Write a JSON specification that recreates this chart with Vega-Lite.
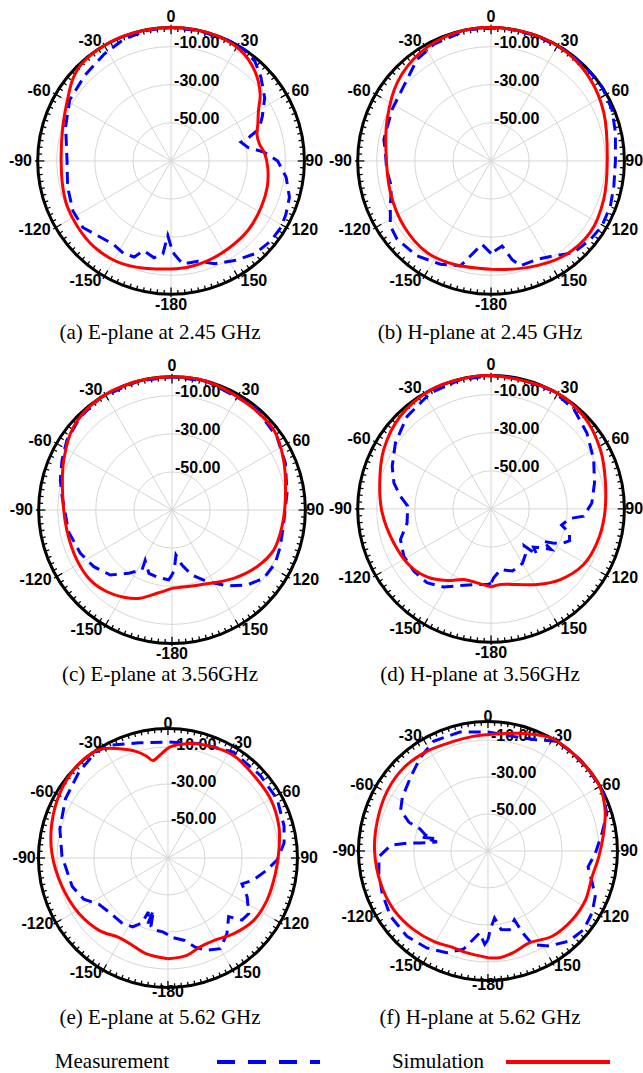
{
  "$schema": "https://vega.github.io/schema/vega-lite/v6.json",
  "padding": 0,
  "background": "white",
  "bounds": "flush",
  "columns": 2,
  "spacing": {"row": 23, "column": 0},
  "config": {"view": {"stroke": null}},
  "resolve": {"scale": {"x": "independent", "y": "independent", "size": "independent"}},
  "datasets": {
    "gridc": [{"d": -50}, {"d": -30}, {"d": -10}],
    "ring": [{"d": 0}],
    "spokes": [{"a": 0}, {"a": 30}, {"a": 60}, {"a": 90}, {"a": 120}, {"a": 150}, {"a": 180}, {"a": 210}, {"a": 240}, {"a": 270}, {"a": 300}, {"a": 330}],
    "ticks": [{"a":0},{"a":3},{"a":6},{"a":9},{"a":12},{"a":15},{"a":18},{"a":21},{"a":24},{"a":27},{"a":30},{"a":33},{"a":36},{"a":39},{"a":42},{"a":45},{"a":48},{"a":51},{"a":54},{"a":57},{"a":60},{"a":63},{"a":66},{"a":69},{"a":72},{"a":75},{"a":78},{"a":81},{"a":84},{"a":87},{"a":90},{"a":93},{"a":96},{"a":99},{"a":102},{"a":105},{"a":108},{"a":111},{"a":114},{"a":117},{"a":120},{"a":123},{"a":126},{"a":129},{"a":132},{"a":135},{"a":138},{"a":141},{"a":144},{"a":147},{"a":150},{"a":153},{"a":156},{"a":159},{"a":162},{"a":165},{"a":168},{"a":171},{"a":174},{"a":177},{"a":180},{"a":183},{"a":186},{"a":189},{"a":192},{"a":195},{"a":198},{"a":201},{"a":204},{"a":207},{"a":210},{"a":213},{"a":216},{"a":219},{"a":222},{"a":225},{"a":228},{"a":231},{"a":234},{"a":237},{"a":240},{"a":243},{"a":246},{"a":249},{"a":252},{"a":255},{"a":258},{"a":261},{"a":264},{"a":267},{"a":270},{"a":273},{"a":276},{"a":279},{"a":282},{"a":285},{"a":288},{"a":291},{"a":294},{"a":297},{"a":300},{"a":303},{"a":306},{"a":309},{"a":312},{"a":315},{"a":318},{"a":321},{"a":324},{"a":327},{"a":330},{"a":333},{"a":336},{"a":339},{"a":342},{"a":345},{"a":348},{"a":351},{"a":354},{"a":357}],
    "alab": [{"a": 0, "t": "0"}, {"a": 30, "t": "30"}, {"a": 60, "t": "60"}, {"a": 90, "t": "90"}, {"a": 120, "t": "120"}, {"a": 150, "t": "150"}, {"a": 180, "t": "-180"}, {"a": -30, "t": "-30"}, {"a": -60, "t": "-60"}, {"a": -90, "t": "-90"}, {"a": -120, "t": "-120"}, {"a": -150, "t": "-150"}],
    "rlab": [{"d": -10, "t": "-10.00"}, {"d": -30, "t": "-30.00"}, {"d": -50, "t": "-50.00"}],
    "legend": [{"s": "Measurement"}, {"s": "Simulation"}],
    "curves": [
      {"p":"a","s":"m","a":-180,"d":-25},{"p":"a","s":"m","a":-177.5,"d":-30.8},{"p":"a","s":"m","a":-175,"d":-21},{"p":"a","s":"m","a":-170,"d":-18.4},{"p":"a","s":"m","a":-163,"d":-20.8},{"p":"a","s":"m","a":-159,"d":-16},{"p":"a","s":"m","a":-153,"d":-15.4},{"p":"a","s":"m","a":-145,"d":-16.8},{"p":"a","s":"m","a":-135.5,"d":-15},{"p":"a","s":"m","a":-127,"d":-12},{"p":"a","s":"m","a":-117,"d":-12.2},{"p":"a","s":"m","a":-104,"d":-14},{"p":"a","s":"m","a":-90,"d":-15.4},{"p":"a","s":"m","a":-72,"d":-11.8},{"p":"a","s":"m","a":-59,"d":-7.9},{"p":"a","s":"m","a":-45,"d":-6.2},{"p":"a","s":"m","a":-32,"d":-3.8},{"p":"a","s":"m","a":-21,"d":-1.4},{"p":"a","s":"m","a":-10,"d":-0.3},{"p":"a","s":"m","a":0,"d":0},{"p":"a","s":"m","a":12,"d":0},{"p":"a","s":"m","a":25,"d":0},{"p":"a","s":"m","a":33,"d":0},{"p":"a","s":"m","a":40,"d":-1.6},{"p":"a","s":"m","a":47,"d":-5.5},{"p":"a","s":"m","a":56,"d":-10.7},{"p":"a","s":"m","a":64,"d":-16.7},{"p":"a","s":"m","a":70,"d":-20.7},{"p":"a","s":"m","a":73,"d":-27},{"p":"a","s":"m","a":75,"d":-32},{"p":"a","s":"m","a":80,"d":-29},{"p":"a","s":"m","a":84.5,"d":-21},{"p":"a","s":"m","a":90,"d":-14},{"p":"a","s":"m","a":98,"d":-9},{"p":"a","s":"m","a":107,"d":-5},{"p":"a","s":"m","a":115,"d":-3.5},{"p":"a","s":"m","a":121,"d":-2.6},{"p":"a","s":"m","a":128.5,"d":-2.8},{"p":"a","s":"m","a":138,"d":-4.4},{"p":"a","s":"m","a":147.5,"d":-8},{"p":"a","s":"m","a":157,"d":-11.4},{"p":"a","s":"m","a":165,"d":-15.5},{"p":"a","s":"m","a":173.5,"d":-15.6},{"p":"a","s":"m","a":178,"d":-21},{"p":"a","s":"m","a":180,"d":-25},
      {"p":"a","s":"s","a":-180,"d":-13.3},{"p":"a","s":"s","a":-166,"d":-11.9},{"p":"a","s":"s","a":-152,"d":-10},{"p":"a","s":"s","a":-138,"d":-9.4},{"p":"a","s":"s","a":-125,"d":-10},{"p":"a","s":"s","a":-114,"d":-10.5},{"p":"a","s":"s","a":-104,"d":-11.5},{"p":"a","s":"s","a":-90,"d":-12.3},{"p":"a","s":"s","a":-73,"d":-10.5},{"p":"a","s":"s","a":-58,"d":-6.3},{"p":"a","s":"s","a":-50,"d":-2.8},{"p":"a","s":"s","a":-43,"d":-0.8},{"p":"a","s":"s","a":-30,"d":0},{"p":"a","s":"s","a":-16,"d":0},{"p":"a","s":"s","a":0,"d":0},{"p":"a","s":"s","a":10,"d":0},{"p":"a","s":"s","a":20,"d":0},{"p":"a","s":"s","a":32,"d":-1.4},{"p":"a","s":"s","a":43,"d":-5.5},{"p":"a","s":"s","a":53,"d":-11.4},{"p":"a","s":"s","a":60,"d":-17},{"p":"a","s":"s","a":67,"d":-20.5},{"p":"a","s":"s","a":73,"d":-22.8},{"p":"a","s":"s","a":79,"d":-22.8},{"p":"a","s":"s","a":85,"d":-20.8},{"p":"a","s":"s","a":94,"d":-19.1},{"p":"a","s":"s","a":105,"d":-17.7},{"p":"a","s":"s","a":117,"d":-16.8},{"p":"a","s":"s","a":132,"d":-15.6},{"p":"a","s":"s","a":147,"d":-15},{"p":"a","s":"s","a":160,"d":-14.2},{"p":"a","s":"s","a":171,"d":-13.5},{"p":"a","s":"s","a":180,"d":-13.3},
      {"p":"b","s":"m","a":-180,"d":-21.5},{"p":"b","s":"m","a":-173.8,"d":-26},{"p":"b","s":"m","a":-167.7,"d":-18.9},{"p":"b","s":"m","a":-163.7,"d":-12.6},{"p":"b","s":"m","a":-153.9,"d":-9.6},{"p":"b","s":"m","a":-142,"d":-6.8},{"p":"b","s":"m","a":-129.8,"d":-5.8},{"p":"b","s":"m","a":-122.8,"d":-7.1},{"p":"b","s":"m","a":-114,"d":-12.1},{"p":"b","s":"m","a":-104.6,"d":-16},{"p":"b","s":"m","a":-95,"d":-15},{"p":"b","s":"m","a":-85.5,"d":-14.4},{"p":"b","s":"m","a":-78.6,"d":-12.6},{"p":"b","s":"m","a":-62.4,"d":-11.4},{"p":"b","s":"m","a":-49.3,"d":-9.6},{"p":"b","s":"m","a":-36,"d":-4},{"p":"b","s":"m","a":-26,"d":-1.8},{"p":"b","s":"m","a":-10.3,"d":0},{"p":"b","s":"m","a":0,"d":-0.3},{"p":"b","s":"m","a":6.8,"d":0},{"p":"b","s":"m","a":19.7,"d":0},{"p":"b","s":"m","a":34,"d":0},{"p":"b","s":"m","a":45.3,"d":0},{"p":"b","s":"m","a":56.3,"d":0},{"p":"b","s":"m","a":66.9,"d":-1},{"p":"b","s":"m","a":77,"d":-3},{"p":"b","s":"m","a":90,"d":-4.7},{"p":"b","s":"m","a":101.5,"d":-4.2},{"p":"b","s":"m","a":110.7,"d":-3},{"p":"b","s":"m","a":120.4,"d":-2.5},{"p":"b","s":"m","a":128.3,"d":-3.5},{"p":"b","s":"m","a":138,"d":-5.2},{"p":"b","s":"m","a":146.6,"d":-10.3},{"p":"b","s":"m","a":155,"d":-13},{"p":"b","s":"m","a":164.4,"d":-12.8},{"p":"b","s":"m","a":168,"d":-17.2},{"p":"b","s":"m","a":172.6,"d":-25},{"p":"b","s":"m","a":180,"d":-21.5},
      {"p":"b","s":"s","a":-180,"d":-13.1},{"p":"b","s":"s","a":-160,"d":-12.3},{"p":"b","s":"s","a":-145,"d":-11.3},{"p":"b","s":"s","a":-127,"d":-12.8},{"p":"b","s":"s","a":-107.5,"d":-14.6},{"p":"b","s":"s","a":-84,"d":-14.5},{"p":"b","s":"s","a":-68,"d":-11.2},{"p":"b","s":"s","a":-50,"d":-5.8},{"p":"b","s":"s","a":-33,"d":-2.1},{"p":"b","s":"s","a":-16,"d":-0.2},{"p":"b","s":"s","a":0,"d":0},{"p":"b","s":"s","a":18,"d":0},{"p":"b","s":"s","a":35,"d":-0.5},{"p":"b","s":"s","a":50.6,"d":-2.5},{"p":"b","s":"s","a":66.8,"d":-5.6},{"p":"b","s":"s","a":90,"d":-9},{"p":"b","s":"s","a":108.8,"d":-7.5},{"p":"b","s":"s","a":125.8,"d":-5.8},{"p":"b","s":"s","a":142.6,"d":-7.2},{"p":"b","s":"s","a":161.4,"d":-10.9},{"p":"b","s":"s","a":180,"d":-13.1},
      {"p":"c","s":"m","a":-180,"d":-36},{"p":"c","s":"m","a":-177.3,"d":-33.3},{"p":"c","s":"m","a":-167.3,"d":-34},{"p":"c","s":"m","a":-160,"d":-34.6},{"p":"c","s":"m","a":-152,"d":-40},{"p":"c","s":"m","a":-153.4,"d":-34.8},{"p":"c","s":"m","a":-145.6,"d":-29.8},{"p":"c","s":"m","a":-136.5,"d":-23},{"p":"c","s":"m","a":-125.9,"d":-19.3},{"p":"c","s":"m","a":-115.3,"d":-16.8},{"p":"c","s":"m","a":-101.8,"d":-14.5},{"p":"c","s":"m","a":-83,"d":-11.9},{"p":"c","s":"m","a":-75,"d":-9.3},{"p":"c","s":"m","a":-65.6,"d":-6.6},{"p":"c","s":"m","a":-56.3,"d":-3.7},{"p":"c","s":"m","a":-44.5,"d":-1.4},{"p":"c","s":"m","a":-32.3,"d":0},{"p":"c","s":"m","a":-15,"d":0},{"p":"c","s":"m","a":0,"d":0},{"p":"c","s":"m","a":15,"d":0},{"p":"c","s":"m","a":38.3,"d":-0.5},{"p":"c","s":"m","a":55,"d":-2.8},{"p":"c","s":"m","a":67.6,"d":-5.6},{"p":"c","s":"m","a":81.8,"d":-9},{"p":"c","s":"m","a":96.8,"d":-11},{"p":"c","s":"m","a":108.7,"d":-10},{"p":"c","s":"m","a":117.3,"d":-9},{"p":"c","s":"m","a":126.7,"d":-10},{"p":"c","s":"m","a":135,"d":-14.3},{"p":"c","s":"m","a":144,"d":-20.8},{"p":"c","s":"m","a":154,"d":-28.2},{"p":"c","s":"m","a":163,"d":-34.3},{"p":"c","s":"m","a":169.7,"d":-40.6},{"p":"c","s":"m","a":175,"d":-46.3},{"p":"c","s":"m","a":177.8,"d":-38.5},{"p":"c","s":"m","a":180,"d":-36},
      {"p":"c","s":"s","a":-180,"d":-28.9},{"p":"c","s":"s","a":-169.8,"d":-25.6},{"p":"c","s":"s","a":-160,"d":-20.7},{"p":"c","s":"s","a":-151,"d":-17.7},{"p":"c","s":"s","a":-141.5,"d":-15.2},{"p":"c","s":"s","a":-130.6,"d":-13.5},{"p":"c","s":"s","a":-117.8,"d":-13.6},{"p":"c","s":"s","a":-100.8,"d":-13.8},{"p":"c","s":"s","a":-83,"d":-12.2},{"p":"c","s":"s","a":-65.2,"d":-7.4},{"p":"c","s":"s","a":-49.7,"d":-2.3},{"p":"c","s":"s","a":-34.3,"d":-0.2},{"p":"c","s":"s","a":-16.6,"d":0},{"p":"c","s":"s","a":0,"d":0},{"p":"c","s":"s","a":15,"d":0},{"p":"c","s":"s","a":35,"d":-1.6},{"p":"c","s":"s","a":51.8,"d":-2},{"p":"c","s":"s","a":65.9,"d":-5.8},{"p":"c","s":"s","a":85,"d":-10.3},{"p":"c","s":"s","a":98.6,"d":-11.6},{"p":"c","s":"s","a":111.5,"d":-12.6},{"p":"c","s":"s","a":123.7,"d":-16.4},{"p":"c","s":"s","a":137.9,"d":-21.7},{"p":"c","s":"s","a":159,"d":-28},{"p":"c","s":"s","a":173.8,"d":-29.2},{"p":"c","s":"s","a":180,"d":-28.9},
      {"p":"d","s":"m","a":-180,"d":-31},{"p":"d","s":"m","a":-177,"d":-30.2},{"p":"d","s":"m","a":-167,"d":-29.2},{"p":"d","s":"m","a":-158,"d":-26.6},{"p":"d","s":"m","a":-148.7,"d":-22},{"p":"d","s":"m","a":-139,"d":-18.7},{"p":"d","s":"m","a":-129,"d":-17.9},{"p":"d","s":"m","a":-118.5,"d":-17.9},{"p":"d","s":"m","a":-108.7,"d":-19.8},{"p":"d","s":"m","a":-99.5,"d":-25.3},{"p":"d","s":"m","a":-88,"d":-26.2},{"p":"d","s":"m","a":-82,"d":-21.9},{"p":"d","s":"m","a":-75,"d":-17.2},{"p":"d","s":"m","a":-66.7,"d":-13.5},{"p":"d","s":"m","a":-55.4,"d":-9},{"p":"d","s":"m","a":-42.2,"d":-4.4},{"p":"d","s":"m","a":-27.6,"d":-1.3},{"p":"d","s":"m","a":-13.3,"d":-0.2},{"p":"d","s":"m","a":0,"d":0},{"p":"d","s":"m","a":12.7,"d":0},{"p":"d","s":"m","a":28,"d":0},{"p":"d","s":"m","a":39.8,"d":-2},{"p":"d","s":"m","a":51.6,"d":-5.8},{"p":"d","s":"m","a":64.3,"d":-10.2},{"p":"d","s":"m","a":75.9,"d":-14},{"p":"d","s":"m","a":86.6,"d":-17},{"p":"d","s":"m","a":94.5,"d":-21.2},{"p":"d","s":"m","a":97,"d":-28.5},{"p":"d","s":"m","a":103,"d":-32},{"p":"d","s":"m","a":107,"d":-27},{"p":"d","s":"m","a":112,"d":-25.5},{"p":"d","s":"m","a":116,"d":-28.5},{"p":"d","s":"m","a":119,"d":-33},{"p":"d","s":"m","a":122,"d":-38},{"p":"d","s":"m","a":124,"d":-32},{"p":"d","s":"m","a":128,"d":-37},{"p":"d","s":"m","a":132,"d":-40},{"p":"d","s":"m","a":135,"d":-36},{"p":"d","s":"m","a":138,"d":-44},{"p":"d","s":"m","a":143,"d":-40},{"p":"d","s":"m","a":150,"d":-37},{"p":"d","s":"m","a":161,"d":-35.5},{"p":"d","s":"m","a":171,"d":-37.8},{"p":"d","s":"m","a":177.8,"d":-33.8},{"p":"d","s":"m","a":180,"d":-31},
      {"p":"d","s":"s","a":-180,"d":-29},{"p":"d","s":"s","a":-169.3,"d":-30.5},{"p":"d","s":"s","a":-158.9,"d":-30.3},{"p":"d","s":"s","a":-148.5,"d":-25.9},{"p":"d","s":"s","a":-136.7,"d":-21},{"p":"d","s":"s","a":-125.4,"d":-18},{"p":"d","s":"s","a":-109.3,"d":-15.9},{"p":"d","s":"s","a":-92,"d":-12.8},{"p":"d","s":"s","a":-76.9,"d":-10},{"p":"d","s":"s","a":-61,"d":-5.6},{"p":"d","s":"s","a":-44.4,"d":-1.9},{"p":"d","s":"s","a":-27,"d":0},{"p":"d","s":"s","a":-13,"d":0},{"p":"d","s":"s","a":0,"d":0},{"p":"d","s":"s","a":27,"d":0},{"p":"d","s":"s","a":45,"d":-1.2},{"p":"d","s":"s","a":61.5,"d":-4.7},{"p":"d","s":"s","a":77.2,"d":-8.4},{"p":"d","s":"s","a":93.7,"d":-10.4},{"p":"d","s":"s","a":107.8,"d":-11.6},{"p":"d","s":"s","a":121,"d":-13.3},{"p":"d","s":"s","a":135.5,"d":-18},{"p":"d","s":"s","a":148.7,"d":-23.5},{"p":"d","s":"s","a":161,"d":-28},{"p":"d","s":"s","a":173,"d":-30},{"p":"d","s":"s","a":180,"d":-29},
      {"p":"e","s":"m","a":-180,"d":-28.5},{"p":"e","s":"m","a":-176,"d":-30},{"p":"e","s":"m","a":-170.8,"d":-30.4},{"p":"e","s":"m","a":-166,"d":-32},{"p":"e","s":"m","a":-164.5,"d":-40.7},{"p":"e","s":"m","a":-163,"d":-33},{"p":"e","s":"m","a":-160,"d":-39},{"p":"e","s":"m","a":-158,"d":-32},{"p":"e","s":"m","a":-152.9,"d":-28.2},{"p":"e","s":"m","a":-145.3,"d":-26.9},{"p":"e","s":"m","a":-134,"d":-26.9},{"p":"e","s":"m","a":-123.8,"d":-25.1},{"p":"e","s":"m","a":-116,"d":-19.3},{"p":"e","s":"m","a":-106.6,"d":-16},{"p":"e","s":"m","a":-89,"d":-12.7},{"p":"e","s":"m","a":-75,"d":-9.5},{"p":"e","s":"m","a":-60,"d":-6},{"p":"e","s":"m","a":-46,"d":-3.1},{"p":"e","s":"m","a":-34.3,"d":-0.7},{"p":"e","s":"m","a":-27.6,"d":-1.3},{"p":"e","s":"m","a":-14,"d":-5.8},{"p":"e","s":"m","a":0,"d":-7.3},{"p":"e","s":"m","a":15.6,"d":-5.8},{"p":"e","s":"m","a":31.8,"d":-2.7},{"p":"e","s":"m","a":48.3,"d":-3},{"p":"e","s":"m","a":61.7,"d":-2.9},{"p":"e","s":"m","a":74.6,"d":-4.9},{"p":"e","s":"m","a":82.6,"d":-6.7},{"p":"e","s":"m","a":90.9,"d":-10.9},{"p":"e","s":"m","a":96.8,"d":-16},{"p":"e","s":"m","a":104.3,"d":-22.2},{"p":"e","s":"m","a":109.3,"d":-27.6},{"p":"e","s":"m","a":116,"d":-22.4},{"p":"e","s":"m","a":124.5,"d":-17},{"p":"e","s":"m","a":130,"d":-17.8},{"p":"e","s":"m","a":134,"d":-24.4},{"p":"e","s":"m","a":142,"d":-18.2},{"p":"e","s":"m","a":150,"d":-13.4},{"p":"e","s":"m","a":157,"d":-15.8},{"p":"e","s":"m","a":163,"d":-19.6},{"p":"e","s":"m","a":168.5,"d":-24.5},{"p":"e","s":"m","a":176.4,"d":-26.9},{"p":"e","s":"m","a":180,"d":-28.5},
      {"p":"e","s":"s","a":-180,"d":-15.5},{"p":"e","s":"s","a":-167,"d":-16.9},{"p":"e","s":"s","a":-158,"d":-19},{"p":"e","s":"s","a":-148.5,"d":-19.5},{"p":"e","s":"s","a":-136.4,"d":-16},{"p":"e","s":"s","a":-122,"d":-13.3},{"p":"e","s":"s","a":-105,"d":-10.7},{"p":"e","s":"s","a":-87.5,"d":-7.2},{"p":"e","s":"s","a":-73,"d":-4.4},{"p":"e","s":"s","a":-58.6,"d":-1.8},{"p":"e","s":"s","a":-45,"d":0},{"p":"e","s":"s","a":-35.5,"d":0},{"p":"e","s":"s","a":-31,"d":-1.1},{"p":"e","s":"s","a":-24,"d":-5.3},{"p":"e","s":"s","a":-16.7,"d":-9.8},{"p":"e","s":"s","a":-12,"d":-13.6},{"p":"e","s":"s","a":-8.8,"d":-16.7},{"p":"e","s":"s","a":-4.7,"d":-14.4},{"p":"e","s":"s","a":0.9,"d":-10},{"p":"e","s":"s","a":9.2,"d":-7.4},{"p":"e","s":"s","a":19,"d":-5.6},{"p":"e","s":"s","a":32.6,"d":-4.2},{"p":"e","s":"s","a":46,"d":-5.6},{"p":"e","s":"s","a":60,"d":-6},{"p":"e","s":"s","a":74,"d":-7.6},{"p":"e","s":"s","a":85.7,"d":-9.8},{"p":"e","s":"s","a":98,"d":-11.3},{"p":"e","s":"s","a":113,"d":-11.8},{"p":"e","s":"s","a":126,"d":-12.7},{"p":"e","s":"s","a":139,"d":-15.8},{"p":"e","s":"s","a":151,"d":-19},{"p":"e","s":"s","a":160.3,"d":-18.9},{"p":"e","s":"s","a":169,"d":-16.4},{"p":"e","s":"s","a":180,"d":-15.5},
      {"p":"f","s":"m","a":-180,"d":-22},{"p":"f","s":"m","a":-178,"d":-19.5},{"p":"f","s":"m","a":-174.2,"d":-25.5},{"p":"f","s":"m","a":-169.6,"d":-20.4},{"p":"f","s":"m","a":-165.9,"d":-15.2},{"p":"f","s":"m","a":-157.9,"d":-10.7},{"p":"f","s":"m","a":-147.7,"d":-8},{"p":"f","s":"m","a":-136.5,"d":-6.4},{"p":"f","s":"m","a":-123.9,"d":-6.6},{"p":"f","s":"m","a":-111.8,"d":-8.4},{"p":"f","s":"m","a":-101.6,"d":-9.8},{"p":"f","s":"m","a":-93,"d":-11},{"p":"f","s":"m","a":-86.7,"d":-17.3},{"p":"f","s":"m","a":-84.4,"d":-26},{"p":"f","s":"m","a":-83.3,"d":-33.2},{"p":"f","s":"m","a":-80,"d":-42},{"p":"f","s":"m","a":-78,"d":-34},{"p":"f","s":"m","a":-77,"d":-40},{"p":"f","s":"m","a":-75.5,"d":-35},{"p":"f","s":"m","a":-72,"d":-31.4},{"p":"f","s":"m","a":-70,"d":-24.5},{"p":"f","s":"m","a":-65,"d":-17.9},{"p":"f","s":"m","a":-58,"d":-15.4},{"p":"f","s":"m","a":-46.6,"d":-12.3},{"p":"f","s":"m","a":-36,"d":-7.7},{"p":"f","s":"m","a":-26.4,"d":-3.8},{"p":"f","s":"m","a":-13.3,"d":-3.9},{"p":"f","s":"m","a":0,"d":-5.7},{"p":"f","s":"m","a":12.2,"d":-6.6},{"p":"f","s":"m","a":23.3,"d":-4.5},{"p":"f","s":"m","a":32,"d":0},{"p":"f","s":"m","a":40.3,"d":0},{"p":"f","s":"m","a":51.3,"d":0},{"p":"f","s":"m","a":62.5,"d":0},{"p":"f","s":"m","a":72.7,"d":-2.7},{"p":"f","s":"m","a":81.4,"d":-7.7},{"p":"f","s":"m","a":91.4,"d":-12},{"p":"f","s":"m","a":99,"d":-15.2},{"p":"f","s":"m","a":106.4,"d":-11.4},{"p":"f","s":"m","a":113,"d":-7},{"p":"f","s":"m","a":120.8,"d":-4.5},{"p":"f","s":"m","a":129.4,"d":-3},{"p":"f","s":"m","a":138,"d":-4.5},{"p":"f","s":"m","a":147.3,"d":-8.9},{"p":"f","s":"m","a":154.5,"d":-14},{"p":"f","s":"m","a":157,"d":-22},{"p":"f","s":"m","a":159,"d":-30.2},{"p":"f","s":"m","a":164.7,"d":-25.9},{"p":"f","s":"m","a":170.5,"d":-27},{"p":"f","s":"m","a":174.4,"d":-33.6},{"p":"f","s":"m","a":178.3,"d":-27.5},{"p":"f","s":"m","a":180,"d":-22},
      {"p":"f","s":"s","a":-180,"d":-12.3},{"p":"f","s":"s","a":-168,"d":-13.8},{"p":"f","s":"s","a":-160.3,"d":-14.5},{"p":"f","s":"s","a":-149,"d":-13},{"p":"f","s":"s","a":-136.6,"d":-11.5},{"p":"f","s":"s","a":-122,"d":-10},{"p":"f","s":"s","a":-106.8,"d":-9.4},{"p":"f","s":"s","a":-90,"d":-8.7},{"p":"f","s":"s","a":-74.6,"d":-8},{"p":"f","s":"s","a":-59,"d":-6.6},{"p":"f","s":"s","a":-45.3,"d":-6},{"p":"f","s":"s","a":-31.5,"d":-6.8},{"p":"f","s":"s","a":-17.5,"d":-7.9},{"p":"f","s":"s","a":-7.4,"d":-7.5},{"p":"f","s":"s","a":0,"d":-7.1},{"p":"f","s":"s","a":15,"d":-4.1},{"p":"f","s":"s","a":29.3,"d":0},{"p":"f","s":"s","a":39.3,"d":0},{"p":"f","s":"s","a":50.4,"d":0},{"p":"f","s":"s","a":60.5,"d":-0.3},{"p":"f","s":"s","a":71,"d":-3},{"p":"f","s":"s","a":81.5,"d":-6.8},{"p":"f","s":"s","a":93,"d":-10},{"p":"f","s":"s","a":104,"d":-12},{"p":"f","s":"s","a":116.6,"d":-11},{"p":"f","s":"s","a":129,"d":-11.2},{"p":"f","s":"s","a":143,"d":-12.3},{"p":"f","s":"s","a":155.8,"d":-15.5},{"p":"f","s":"s","a":166,"d":-13.4},{"p":"f","s":"s","a":173.8,"d":-12},{"p":"f","s":"s","a":180,"d":-12.3}
    ]
  },
  "concat": [
    {
      "width": 320, "height": 320,
      "title": {"text": "(a) E-plane at 2.45 GHz", "orient": "bottom", "offset": 13, "anchor": "middle", "baseline": "middle", "font": "Liberation Serif", "fontSize": 21, "fontWeight": "normal", "color": "#000000"},
      "layer": [
        {"data": {"name": "gridc"}, "transform": [{"calculate": "datum.d + 70", "as": "r"}, {"calculate": "0", "as": "z"}], "mark": {"type": "point", "shape": "circle", "filled": false, "color": "#d6d6d6", "strokeWidth": 1, "opacity": 1}, "encoding": {"x": {"field": "z", "type": "quantitative", "scale": {"domain": [-89.8, 78.2], "nice": false, "zero": false}, "axis": null}, "y": {"field": "z", "type": "quantitative", "scale": {"domain": [-83.5, 84.5], "nice": false, "zero": false}, "axis": null}, "size": {"field": "r", "type": "quantitative", "scale": {"type": "pow", "exponent": 2, "domain": [0, 70], "range": [0, 71129], "nice": false}, "legend": null}}},
        {"data": {"name": "spokes"}, "transform": [{"calculate": "0", "as": "z"}, {"calculate": "70*sin(datum.a*PI/180)", "as": "xe"}, {"calculate": "70*cos(datum.a*PI/180)", "as": "ye"}], "mark": {"type": "rule", "color": "#d6d6d6", "strokeWidth": 1}, "encoding": {"x": {"field": "z", "type": "quantitative", "axis": null}, "y": {"field": "z", "type": "quantitative", "axis": null}, "x2": {"field": "xe"}, "y2": {"field": "ye"}}},
        {"data": {"name": "ring"}, "transform": [{"calculate": "datum.d + 70", "as": "r"}, {"calculate": "0", "as": "z"}], "mark": {"type": "point", "shape": "circle", "filled": false, "color": "#000000", "strokeWidth": 3, "opacity": 1}, "encoding": {"x": {"field": "z", "type": "quantitative", "axis": null}, "y": {"field": "z", "type": "quantitative", "axis": null}, "size": {"field": "r", "type": "quantitative", "legend": null}}},
        {"data": {"name": "ticks"}, "transform": [{"calculate": "datum.a % 30 == 0 ? 71.5 : 70", "as": "r1"}, {"calculate": "datum.a % 30 == 0 ? 66.5 : 67.8", "as": "r2"}, {"calculate": "datum.r1*sin(datum.a*PI/180)", "as": "x1"}, {"calculate": "datum.r1*cos(datum.a*PI/180)", "as": "y1"}, {"calculate": "datum.r2*sin(datum.a*PI/180)", "as": "x2"}, {"calculate": "datum.r2*cos(datum.a*PI/180)", "as": "y2"}], "mark": {"type": "rule", "color": "#000000", "strokeWidth": 1.3}, "encoding": {"x": {"field": "x1", "type": "quantitative", "axis": null}, "y": {"field": "y1", "type": "quantitative", "axis": null}, "x2": {"field": "x2"}, "y2": {"field": "y2"}}},
        {"data": {"name": "alab"}, "transform": [{"filter": "datum.a == 0 || datum.a == 180"}, {"calculate": "75.5*sin(datum.a*PI/180)", "as": "lx"}, {"calculate": "75.5*cos(datum.a*PI/180)", "as": "ly"}], "mark": {"type": "text", "font": "Liberation Sans", "fontWeight": "bold", "fontSize": 16, "color": "#000000", "align": "center", "baseline": "middle"}, "encoding": {"x": {"field": "lx", "type": "quantitative", "axis": null}, "y": {"field": "ly", "type": "quantitative", "axis": null}, "text": {"field": "t", "type": "nominal"}}},
        {"data": {"name": "alab"}, "transform": [{"filter": "datum.a > 0 && datum.a < 180"}, {"calculate": "datum.a == 90 ? 70.5 : 73", "as": "lr"}, {"calculate": "datum.lr*sin(datum.a*PI/180)", "as": "lx"}, {"calculate": "datum.lr*cos(datum.a*PI/180)", "as": "ly"}], "mark": {"type": "text", "font": "Liberation Sans", "fontWeight": "bold", "fontSize": 16, "color": "#000000", "align": "left", "baseline": "middle"}, "encoding": {"x": {"field": "lx", "type": "quantitative", "axis": null}, "y": {"field": "ly", "type": "quantitative", "axis": null}, "text": {"field": "t", "type": "nominal"}}},
        {"data": {"name": "alab"}, "transform": [{"filter": "datum.a < 0"}, {"calculate": "73*sin(datum.a*PI/180)", "as": "lx"}, {"calculate": "73*cos(datum.a*PI/180)", "as": "ly"}], "mark": {"type": "text", "font": "Liberation Sans", "fontWeight": "bold", "fontSize": 16, "color": "#000000", "align": "right", "baseline": "middle"}, "encoding": {"x": {"field": "lx", "type": "quantitative", "axis": null}, "y": {"field": "ly", "type": "quantitative", "axis": null}, "text": {"field": "t", "type": "nominal"}}},
        {"data": {"name": "rlab"}, "transform": [{"calculate": "datum.d + 70", "as": "ry"}, {"calculate": "0", "as": "z"}], "mark": {"type": "text", "font": "Liberation Sans", "fontWeight": "bold", "fontSize": 16, "color": "#000000", "align": "left", "baseline": "middle", "dx": 3, "dy": -4}, "encoding": {"x": {"field": "z", "type": "quantitative", "axis": null}, "y": {"field": "ry", "type": "quantitative", "axis": null}, "text": {"field": "t", "type": "nominal"}}},
        {"data": {"name": "curves"}, "transform": [{"filter": "datum.p == 'a' && datum.s == 'm'"}, {"calculate": "datum.d + 70", "as": "r"}, {"calculate": "datum.r*sin(datum.a*PI/180)", "as": "cx"}, {"calculate": "datum.r*cos(datum.a*PI/180)", "as": "cy"}], "mark": {"type": "line", "color": "#0000ff", "strokeWidth": 3, "strokeDash": [12, 7]}, "encoding": {"x": {"field": "cx", "type": "quantitative", "axis": null}, "y": {"field": "cy", "type": "quantitative", "axis": null}, "order": {"value": null}}},
        {"data": {"name": "curves"}, "transform": [{"filter": "datum.p == 'a' && datum.s == 's'"}, {"calculate": "datum.d + 70", "as": "r"}, {"calculate": "datum.r*sin(datum.a*PI/180)", "as": "cx"}, {"calculate": "datum.r*cos(datum.a*PI/180)", "as": "cy"}], "mark": {"type": "line", "color": "#ff0000", "strokeWidth": 3, "interpolate": "catmull-rom"}, "encoding": {"x": {"field": "cx", "type": "quantitative", "axis": null}, "y": {"field": "cy", "type": "quantitative", "axis": null}, "order": {"value": null}}}
      ]
    },
    {
      "width": 320, "height": 320,
      "title": {"text": "(b) H-plane at 2.45 GHz", "orient": "bottom", "offset": 13, "anchor": "middle", "baseline": "middle", "font": "Liberation Serif", "fontSize": 21, "fontWeight": "normal", "color": "#000000"},
      "layer": [
        {"data": {"name": "gridc"}, "transform": [{"calculate": "datum.d + 70", "as": "r"}, {"calculate": "0", "as": "z"}], "mark": {"type": "point", "shape": "circle", "filled": false, "color": "#d6d6d6", "strokeWidth": 1, "opacity": 1}, "encoding": {"x": {"field": "z", "type": "quantitative", "scale": {"domain": [-89.8, 78.2], "nice": false, "zero": false}, "axis": null}, "y": {"field": "z", "type": "quantitative", "scale": {"domain": [-83.5, 84.5], "nice": false, "zero": false}, "axis": null}, "size": {"field": "r", "type": "quantitative", "scale": {"type": "pow", "exponent": 2, "domain": [0, 70], "range": [0, 71129], "nice": false}, "legend": null}}},
        {"data": {"name": "spokes"}, "transform": [{"calculate": "0", "as": "z"}, {"calculate": "70*sin(datum.a*PI/180)", "as": "xe"}, {"calculate": "70*cos(datum.a*PI/180)", "as": "ye"}], "mark": {"type": "rule", "color": "#d6d6d6", "strokeWidth": 1}, "encoding": {"x": {"field": "z", "type": "quantitative", "axis": null}, "y": {"field": "z", "type": "quantitative", "axis": null}, "x2": {"field": "xe"}, "y2": {"field": "ye"}}},
        {"data": {"name": "ring"}, "transform": [{"calculate": "datum.d + 70", "as": "r"}, {"calculate": "0", "as": "z"}], "mark": {"type": "point", "shape": "circle", "filled": false, "color": "#000000", "strokeWidth": 3, "opacity": 1}, "encoding": {"x": {"field": "z", "type": "quantitative", "axis": null}, "y": {"field": "z", "type": "quantitative", "axis": null}, "size": {"field": "r", "type": "quantitative", "legend": null}}},
        {"data": {"name": "ticks"}, "transform": [{"calculate": "datum.a % 30 == 0 ? 71.5 : 70", "as": "r1"}, {"calculate": "datum.a % 30 == 0 ? 66.5 : 67.8", "as": "r2"}, {"calculate": "datum.r1*sin(datum.a*PI/180)", "as": "x1"}, {"calculate": "datum.r1*cos(datum.a*PI/180)", "as": "y1"}, {"calculate": "datum.r2*sin(datum.a*PI/180)", "as": "x2"}, {"calculate": "datum.r2*cos(datum.a*PI/180)", "as": "y2"}], "mark": {"type": "rule", "color": "#000000", "strokeWidth": 1.3}, "encoding": {"x": {"field": "x1", "type": "quantitative", "axis": null}, "y": {"field": "y1", "type": "quantitative", "axis": null}, "x2": {"field": "x2"}, "y2": {"field": "y2"}}},
        {"data": {"name": "alab"}, "transform": [{"filter": "datum.a == 0 || datum.a == 180"}, {"calculate": "75.5*sin(datum.a*PI/180)", "as": "lx"}, {"calculate": "75.5*cos(datum.a*PI/180)", "as": "ly"}], "mark": {"type": "text", "font": "Liberation Sans", "fontWeight": "bold", "fontSize": 16, "color": "#000000", "align": "center", "baseline": "middle"}, "encoding": {"x": {"field": "lx", "type": "quantitative", "axis": null}, "y": {"field": "ly", "type": "quantitative", "axis": null}, "text": {"field": "t", "type": "nominal"}}},
        {"data": {"name": "alab"}, "transform": [{"filter": "datum.a > 0 && datum.a < 180"}, {"calculate": "datum.a == 90 ? 70.5 : 73", "as": "lr"}, {"calculate": "datum.lr*sin(datum.a*PI/180)", "as": "lx"}, {"calculate": "datum.lr*cos(datum.a*PI/180)", "as": "ly"}], "mark": {"type": "text", "font": "Liberation Sans", "fontWeight": "bold", "fontSize": 16, "color": "#000000", "align": "left", "baseline": "middle"}, "encoding": {"x": {"field": "lx", "type": "quantitative", "axis": null}, "y": {"field": "ly", "type": "quantitative", "axis": null}, "text": {"field": "t", "type": "nominal"}}},
        {"data": {"name": "alab"}, "transform": [{"filter": "datum.a < 0"}, {"calculate": "73*sin(datum.a*PI/180)", "as": "lx"}, {"calculate": "73*cos(datum.a*PI/180)", "as": "ly"}], "mark": {"type": "text", "font": "Liberation Sans", "fontWeight": "bold", "fontSize": 16, "color": "#000000", "align": "right", "baseline": "middle"}, "encoding": {"x": {"field": "lx", "type": "quantitative", "axis": null}, "y": {"field": "ly", "type": "quantitative", "axis": null}, "text": {"field": "t", "type": "nominal"}}},
        {"data": {"name": "rlab"}, "transform": [{"calculate": "datum.d + 70", "as": "ry"}, {"calculate": "0", "as": "z"}], "mark": {"type": "text", "font": "Liberation Sans", "fontWeight": "bold", "fontSize": 16, "color": "#000000", "align": "left", "baseline": "middle", "dx": 3, "dy": -4}, "encoding": {"x": {"field": "z", "type": "quantitative", "axis": null}, "y": {"field": "ry", "type": "quantitative", "axis": null}, "text": {"field": "t", "type": "nominal"}}},
        {"data": {"name": "curves"}, "transform": [{"filter": "datum.p == 'b' && datum.s == 'm'"}, {"calculate": "datum.d + 70", "as": "r"}, {"calculate": "datum.r*sin(datum.a*PI/180)", "as": "cx"}, {"calculate": "datum.r*cos(datum.a*PI/180)", "as": "cy"}], "mark": {"type": "line", "color": "#0000ff", "strokeWidth": 3, "strokeDash": [12, 7]}, "encoding": {"x": {"field": "cx", "type": "quantitative", "axis": null}, "y": {"field": "cy", "type": "quantitative", "axis": null}, "order": {"value": null}}},
        {"data": {"name": "curves"}, "transform": [{"filter": "datum.p == 'b' && datum.s == 's'"}, {"calculate": "datum.d + 70", "as": "r"}, {"calculate": "datum.r*sin(datum.a*PI/180)", "as": "cx"}, {"calculate": "datum.r*cos(datum.a*PI/180)", "as": "cy"}], "mark": {"type": "line", "color": "#ff0000", "strokeWidth": 3, "interpolate": "catmull-rom"}, "encoding": {"x": {"field": "cx", "type": "quantitative", "axis": null}, "y": {"field": "cy", "type": "quantitative", "axis": null}, "order": {"value": null}}}
      ]
    },
    {
      "width": 320, "height": 320,
      "title": {"text": "(c) E-plane at 3.56GHz", "orient": "bottom", "offset": 12, "anchor": "middle", "baseline": "middle", "font": "Liberation Serif", "fontSize": 21, "fontWeight": "normal", "color": "#000000"},
      "layer": [
        {"data": {"name": "gridc"}, "transform": [{"calculate": "datum.d + 70", "as": "r"}, {"calculate": "0", "as": "z"}], "mark": {"type": "point", "shape": "circle", "filled": false, "color": "#d6d6d6", "strokeWidth": 1, "opacity": 1}, "encoding": {"x": {"field": "z", "type": "quantitative", "scale": {"domain": [-90.3, 77.7], "nice": false, "zero": false}, "axis": null}, "y": {"field": "z", "type": "quantitative", "scale": {"domain": [-80.3, 87.7], "nice": false, "zero": false}, "axis": null}, "size": {"field": "r", "type": "quantitative", "scale": {"type": "pow", "exponent": 2, "domain": [0, 70], "range": [0, 71129], "nice": false}, "legend": null}}},
        {"data": {"name": "spokes"}, "transform": [{"calculate": "0", "as": "z"}, {"calculate": "70*sin(datum.a*PI/180)", "as": "xe"}, {"calculate": "70*cos(datum.a*PI/180)", "as": "ye"}], "mark": {"type": "rule", "color": "#d6d6d6", "strokeWidth": 1}, "encoding": {"x": {"field": "z", "type": "quantitative", "axis": null}, "y": {"field": "z", "type": "quantitative", "axis": null}, "x2": {"field": "xe"}, "y2": {"field": "ye"}}},
        {"data": {"name": "ring"}, "transform": [{"calculate": "datum.d + 70", "as": "r"}, {"calculate": "0", "as": "z"}], "mark": {"type": "point", "shape": "circle", "filled": false, "color": "#000000", "strokeWidth": 3, "opacity": 1}, "encoding": {"x": {"field": "z", "type": "quantitative", "axis": null}, "y": {"field": "z", "type": "quantitative", "axis": null}, "size": {"field": "r", "type": "quantitative", "legend": null}}},
        {"data": {"name": "ticks"}, "transform": [{"calculate": "datum.a % 30 == 0 ? 71.5 : 70", "as": "r1"}, {"calculate": "datum.a % 30 == 0 ? 66.5 : 67.8", "as": "r2"}, {"calculate": "datum.r1*sin(datum.a*PI/180)", "as": "x1"}, {"calculate": "datum.r1*cos(datum.a*PI/180)", "as": "y1"}, {"calculate": "datum.r2*sin(datum.a*PI/180)", "as": "x2"}, {"calculate": "datum.r2*cos(datum.a*PI/180)", "as": "y2"}], "mark": {"type": "rule", "color": "#000000", "strokeWidth": 1.3}, "encoding": {"x": {"field": "x1", "type": "quantitative", "axis": null}, "y": {"field": "y1", "type": "quantitative", "axis": null}, "x2": {"field": "x2"}, "y2": {"field": "y2"}}},
        {"data": {"name": "alab"}, "transform": [{"filter": "datum.a == 0 || datum.a == 180"}, {"calculate": "75.5*sin(datum.a*PI/180)", "as": "lx"}, {"calculate": "75.5*cos(datum.a*PI/180)", "as": "ly"}], "mark": {"type": "text", "font": "Liberation Sans", "fontWeight": "bold", "fontSize": 16, "color": "#000000", "align": "center", "baseline": "middle"}, "encoding": {"x": {"field": "lx", "type": "quantitative", "axis": null}, "y": {"field": "ly", "type": "quantitative", "axis": null}, "text": {"field": "t", "type": "nominal"}}},
        {"data": {"name": "alab"}, "transform": [{"filter": "datum.a > 0 && datum.a < 180"}, {"calculate": "datum.a == 90 ? 70.5 : 73", "as": "lr"}, {"calculate": "datum.lr*sin(datum.a*PI/180)", "as": "lx"}, {"calculate": "datum.lr*cos(datum.a*PI/180)", "as": "ly"}], "mark": {"type": "text", "font": "Liberation Sans", "fontWeight": "bold", "fontSize": 16, "color": "#000000", "align": "left", "baseline": "middle"}, "encoding": {"x": {"field": "lx", "type": "quantitative", "axis": null}, "y": {"field": "ly", "type": "quantitative", "axis": null}, "text": {"field": "t", "type": "nominal"}}},
        {"data": {"name": "alab"}, "transform": [{"filter": "datum.a < 0"}, {"calculate": "73*sin(datum.a*PI/180)", "as": "lx"}, {"calculate": "73*cos(datum.a*PI/180)", "as": "ly"}], "mark": {"type": "text", "font": "Liberation Sans", "fontWeight": "bold", "fontSize": 16, "color": "#000000", "align": "right", "baseline": "middle"}, "encoding": {"x": {"field": "lx", "type": "quantitative", "axis": null}, "y": {"field": "ly", "type": "quantitative", "axis": null}, "text": {"field": "t", "type": "nominal"}}},
        {"data": {"name": "rlab"}, "transform": [{"calculate": "datum.d + 70", "as": "ry"}, {"calculate": "0", "as": "z"}], "mark": {"type": "text", "font": "Liberation Sans", "fontWeight": "bold", "fontSize": 16, "color": "#000000", "align": "left", "baseline": "middle", "dx": 3, "dy": -4}, "encoding": {"x": {"field": "z", "type": "quantitative", "axis": null}, "y": {"field": "ry", "type": "quantitative", "axis": null}, "text": {"field": "t", "type": "nominal"}}},
        {"data": {"name": "curves"}, "transform": [{"filter": "datum.p == 'c' && datum.s == 'm'"}, {"calculate": "datum.d + 70", "as": "r"}, {"calculate": "datum.r*sin(datum.a*PI/180)", "as": "cx"}, {"calculate": "datum.r*cos(datum.a*PI/180)", "as": "cy"}], "mark": {"type": "line", "color": "#0000ff", "strokeWidth": 3, "strokeDash": [12, 7]}, "encoding": {"x": {"field": "cx", "type": "quantitative", "axis": null}, "y": {"field": "cy", "type": "quantitative", "axis": null}, "order": {"value": null}}},
        {"data": {"name": "curves"}, "transform": [{"filter": "datum.p == 'c' && datum.s == 's'"}, {"calculate": "datum.d + 70", "as": "r"}, {"calculate": "datum.r*sin(datum.a*PI/180)", "as": "cx"}, {"calculate": "datum.r*cos(datum.a*PI/180)", "as": "cy"}], "mark": {"type": "line", "color": "#ff0000", "strokeWidth": 3, "interpolate": "catmull-rom"}, "encoding": {"x": {"field": "cx", "type": "quantitative", "axis": null}, "y": {"field": "cy", "type": "quantitative", "axis": null}, "order": {"value": null}}}
      ]
    },
    {
      "width": 320, "height": 320,
      "title": {"text": "(d) H-plane at 3.56GHz", "orient": "bottom", "offset": 12, "anchor": "middle", "baseline": "middle", "font": "Liberation Serif", "fontSize": 21, "fontWeight": "normal", "color": "#000000"},
      "layer": [
        {"data": {"name": "gridc"}, "transform": [{"calculate": "datum.d + 70", "as": "r"}, {"calculate": "0", "as": "z"}], "mark": {"type": "point", "shape": "circle", "filled": false, "color": "#d6d6d6", "strokeWidth": 1, "opacity": 1}, "encoding": {"x": {"field": "z", "type": "quantitative", "scale": {"domain": [-89.8, 78.2], "nice": false, "zero": false}, "axis": null}, "y": {"field": "z", "type": "quantitative", "scale": {"domain": [-80.9, 87.1], "nice": false, "zero": false}, "axis": null}, "size": {"field": "r", "type": "quantitative", "scale": {"type": "pow", "exponent": 2, "domain": [0, 70], "range": [0, 71129], "nice": false}, "legend": null}}},
        {"data": {"name": "spokes"}, "transform": [{"calculate": "0", "as": "z"}, {"calculate": "70*sin(datum.a*PI/180)", "as": "xe"}, {"calculate": "70*cos(datum.a*PI/180)", "as": "ye"}], "mark": {"type": "rule", "color": "#d6d6d6", "strokeWidth": 1}, "encoding": {"x": {"field": "z", "type": "quantitative", "axis": null}, "y": {"field": "z", "type": "quantitative", "axis": null}, "x2": {"field": "xe"}, "y2": {"field": "ye"}}},
        {"data": {"name": "ring"}, "transform": [{"calculate": "datum.d + 70", "as": "r"}, {"calculate": "0", "as": "z"}], "mark": {"type": "point", "shape": "circle", "filled": false, "color": "#000000", "strokeWidth": 3, "opacity": 1}, "encoding": {"x": {"field": "z", "type": "quantitative", "axis": null}, "y": {"field": "z", "type": "quantitative", "axis": null}, "size": {"field": "r", "type": "quantitative", "legend": null}}},
        {"data": {"name": "ticks"}, "transform": [{"calculate": "datum.a % 30 == 0 ? 71.5 : 70", "as": "r1"}, {"calculate": "datum.a % 30 == 0 ? 66.5 : 67.8", "as": "r2"}, {"calculate": "datum.r1*sin(datum.a*PI/180)", "as": "x1"}, {"calculate": "datum.r1*cos(datum.a*PI/180)", "as": "y1"}, {"calculate": "datum.r2*sin(datum.a*PI/180)", "as": "x2"}, {"calculate": "datum.r2*cos(datum.a*PI/180)", "as": "y2"}], "mark": {"type": "rule", "color": "#000000", "strokeWidth": 1.3}, "encoding": {"x": {"field": "x1", "type": "quantitative", "axis": null}, "y": {"field": "y1", "type": "quantitative", "axis": null}, "x2": {"field": "x2"}, "y2": {"field": "y2"}}},
        {"data": {"name": "alab"}, "transform": [{"filter": "datum.a == 0 || datum.a == 180"}, {"calculate": "75.5*sin(datum.a*PI/180)", "as": "lx"}, {"calculate": "75.5*cos(datum.a*PI/180)", "as": "ly"}], "mark": {"type": "text", "font": "Liberation Sans", "fontWeight": "bold", "fontSize": 16, "color": "#000000", "align": "center", "baseline": "middle"}, "encoding": {"x": {"field": "lx", "type": "quantitative", "axis": null}, "y": {"field": "ly", "type": "quantitative", "axis": null}, "text": {"field": "t", "type": "nominal"}}},
        {"data": {"name": "alab"}, "transform": [{"filter": "datum.a > 0 && datum.a < 180"}, {"calculate": "datum.a == 90 ? 70.5 : 73", "as": "lr"}, {"calculate": "datum.lr*sin(datum.a*PI/180)", "as": "lx"}, {"calculate": "datum.lr*cos(datum.a*PI/180)", "as": "ly"}], "mark": {"type": "text", "font": "Liberation Sans", "fontWeight": "bold", "fontSize": 16, "color": "#000000", "align": "left", "baseline": "middle"}, "encoding": {"x": {"field": "lx", "type": "quantitative", "axis": null}, "y": {"field": "ly", "type": "quantitative", "axis": null}, "text": {"field": "t", "type": "nominal"}}},
        {"data": {"name": "alab"}, "transform": [{"filter": "datum.a < 0"}, {"calculate": "73*sin(datum.a*PI/180)", "as": "lx"}, {"calculate": "73*cos(datum.a*PI/180)", "as": "ly"}], "mark": {"type": "text", "font": "Liberation Sans", "fontWeight": "bold", "fontSize": 16, "color": "#000000", "align": "right", "baseline": "middle"}, "encoding": {"x": {"field": "lx", "type": "quantitative", "axis": null}, "y": {"field": "ly", "type": "quantitative", "axis": null}, "text": {"field": "t", "type": "nominal"}}},
        {"data": {"name": "rlab"}, "transform": [{"calculate": "datum.d + 70", "as": "ry"}, {"calculate": "0", "as": "z"}], "mark": {"type": "text", "font": "Liberation Sans", "fontWeight": "bold", "fontSize": 16, "color": "#000000", "align": "left", "baseline": "middle", "dx": 3, "dy": -4}, "encoding": {"x": {"field": "z", "type": "quantitative", "axis": null}, "y": {"field": "ry", "type": "quantitative", "axis": null}, "text": {"field": "t", "type": "nominal"}}},
        {"data": {"name": "curves"}, "transform": [{"filter": "datum.p == 'd' && datum.s == 'm'"}, {"calculate": "datum.d + 70", "as": "r"}, {"calculate": "datum.r*sin(datum.a*PI/180)", "as": "cx"}, {"calculate": "datum.r*cos(datum.a*PI/180)", "as": "cy"}], "mark": {"type": "line", "color": "#0000ff", "strokeWidth": 3, "strokeDash": [12, 7]}, "encoding": {"x": {"field": "cx", "type": "quantitative", "axis": null}, "y": {"field": "cy", "type": "quantitative", "axis": null}, "order": {"value": null}}},
        {"data": {"name": "curves"}, "transform": [{"filter": "datum.p == 'd' && datum.s == 's'"}, {"calculate": "datum.d + 70", "as": "r"}, {"calculate": "datum.r*sin(datum.a*PI/180)", "as": "cx"}, {"calculate": "datum.r*cos(datum.a*PI/180)", "as": "cy"}], "mark": {"type": "line", "color": "#ff0000", "strokeWidth": 3, "interpolate": "catmull-rom"}, "encoding": {"x": {"field": "cx", "type": "quantitative", "axis": null}, "y": {"field": "cy", "type": "quantitative", "axis": null}, "order": {"value": null}}}
      ]
    },
    {
      "width": 320, "height": 320,
      "title": {"text": "(e) E-plane at 5.62 GHz", "orient": "bottom", "offset": 12, "anchor": "middle", "baseline": "middle", "font": "Liberation Serif", "fontSize": 21, "fontWeight": "normal", "color": "#000000"},
      "layer": [
        {"data": {"name": "gridc"}, "transform": [{"calculate": "datum.d + 70", "as": "r"}, {"calculate": "0", "as": "z"}], "mark": {"type": "point", "shape": "circle", "filled": false, "color": "#d6d6d6", "strokeWidth": 1, "opacity": 1}, "encoding": {"x": {"field": "z", "type": "quantitative", "scale": {"domain": [-90.8, 82.2], "nice": false, "zero": false}, "axis": null}, "y": {"field": "z", "type": "quantitative", "scale": {"domain": [-80.0, 93.0], "nice": false, "zero": false}, "axis": null}, "size": {"field": "r", "type": "quantitative", "scale": {"type": "pow", "exponent": 2, "domain": [0, 70], "range": [0, 67081], "nice": false}, "legend": null}}},
        {"data": {"name": "spokes"}, "transform": [{"calculate": "0", "as": "z"}, {"calculate": "70*sin(datum.a*PI/180)", "as": "xe"}, {"calculate": "70*cos(datum.a*PI/180)", "as": "ye"}], "mark": {"type": "rule", "color": "#d6d6d6", "strokeWidth": 1}, "encoding": {"x": {"field": "z", "type": "quantitative", "axis": null}, "y": {"field": "z", "type": "quantitative", "axis": null}, "x2": {"field": "xe"}, "y2": {"field": "ye"}}},
        {"data": {"name": "ring"}, "transform": [{"calculate": "datum.d + 70", "as": "r"}, {"calculate": "0", "as": "z"}], "mark": {"type": "point", "shape": "circle", "filled": false, "color": "#000000", "strokeWidth": 3, "opacity": 1}, "encoding": {"x": {"field": "z", "type": "quantitative", "axis": null}, "y": {"field": "z", "type": "quantitative", "axis": null}, "size": {"field": "r", "type": "quantitative", "legend": null}}},
        {"data": {"name": "ticks"}, "transform": [{"calculate": "datum.a % 30 == 0 ? 71.5 : 70", "as": "r1"}, {"calculate": "datum.a % 30 == 0 ? 66.5 : 67.8", "as": "r2"}, {"calculate": "datum.r1*sin(datum.a*PI/180)", "as": "x1"}, {"calculate": "datum.r1*cos(datum.a*PI/180)", "as": "y1"}, {"calculate": "datum.r2*sin(datum.a*PI/180)", "as": "x2"}, {"calculate": "datum.r2*cos(datum.a*PI/180)", "as": "y2"}], "mark": {"type": "rule", "color": "#000000", "strokeWidth": 1.3}, "encoding": {"x": {"field": "x1", "type": "quantitative", "axis": null}, "y": {"field": "y1", "type": "quantitative", "axis": null}, "x2": {"field": "x2"}, "y2": {"field": "y2"}}},
        {"data": {"name": "alab"}, "transform": [{"filter": "datum.a == 0 || datum.a == 180"}, {"calculate": "72.5*sin(datum.a*PI/180)", "as": "lx"}, {"calculate": "72.5*cos(datum.a*PI/180)", "as": "ly"}], "mark": {"type": "text", "font": "Liberation Sans", "fontWeight": "bold", "fontSize": 16, "color": "#000000", "align": "center", "baseline": "middle"}, "encoding": {"x": {"field": "lx", "type": "quantitative", "axis": null}, "y": {"field": "ly", "type": "quantitative", "axis": null}, "text": {"field": "t", "type": "nominal"}}},
        {"data": {"name": "alab"}, "transform": [{"filter": "datum.a > 0 && datum.a < 180"}, {"calculate": "71.5*sin(datum.a*PI/180)", "as": "lx"}, {"calculate": "71.5*cos(datum.a*PI/180)", "as": "ly"}], "mark": {"type": "text", "font": "Liberation Sans", "fontWeight": "bold", "fontSize": 16, "color": "#000000", "align": "left", "baseline": "middle"}, "encoding": {"x": {"field": "lx", "type": "quantitative", "axis": null}, "y": {"field": "ly", "type": "quantitative", "axis": null}, "text": {"field": "t", "type": "nominal"}}},
        {"data": {"name": "alab"}, "transform": [{"filter": "datum.a < 0"}, {"calculate": "71.5*sin(datum.a*PI/180)", "as": "lx"}, {"calculate": "71.5*cos(datum.a*PI/180)", "as": "ly"}], "mark": {"type": "text", "font": "Liberation Sans", "fontWeight": "bold", "fontSize": 16, "color": "#000000", "align": "right", "baseline": "middle"}, "encoding": {"x": {"field": "lx", "type": "quantitative", "axis": null}, "y": {"field": "ly", "type": "quantitative", "axis": null}, "text": {"field": "t", "type": "nominal"}}},
        {"data": {"name": "rlab"}, "transform": [{"calculate": "datum.d + 70", "as": "ry"}, {"calculate": "0", "as": "z"}], "mark": {"type": "text", "font": "Liberation Sans", "fontWeight": "bold", "fontSize": 16, "color": "#000000", "align": "left", "baseline": "middle", "dx": 3, "dy": -2}, "encoding": {"x": {"field": "z", "type": "quantitative", "axis": null}, "y": {"field": "ry", "type": "quantitative", "axis": null}, "text": {"field": "t", "type": "nominal"}}},
        {"data": {"name": "curves"}, "transform": [{"filter": "datum.p == 'e' && datum.s == 'm'"}, {"calculate": "datum.d + 70", "as": "r"}, {"calculate": "datum.r*sin(datum.a*PI/180)", "as": "cx"}, {"calculate": "datum.r*cos(datum.a*PI/180)", "as": "cy"}], "mark": {"type": "line", "color": "#0000ff", "strokeWidth": 3, "strokeDash": [12, 7]}, "encoding": {"x": {"field": "cx", "type": "quantitative", "axis": null}, "y": {"field": "cy", "type": "quantitative", "axis": null}, "order": {"value": null}}},
        {"data": {"name": "curves"}, "transform": [{"filter": "datum.p == 'e' && datum.s == 's'"}, {"calculate": "datum.d + 70", "as": "r"}, {"calculate": "datum.r*sin(datum.a*PI/180)", "as": "cx"}, {"calculate": "datum.r*cos(datum.a*PI/180)", "as": "cy"}], "mark": {"type": "line", "color": "#ff0000", "strokeWidth": 3, "interpolate": "catmull-rom"}, "encoding": {"x": {"field": "cx", "type": "quantitative", "axis": null}, "y": {"field": "cy", "type": "quantitative", "axis": null}, "order": {"value": null}}}
      ]
    },
    {
      "width": 320, "height": 320,
      "title": {"text": "(f) H-plane at 5.62 GHz", "orient": "bottom", "offset": 12, "anchor": "middle", "baseline": "middle", "font": "Liberation Serif", "fontSize": 21, "fontWeight": "normal", "color": "#000000"},
      "layer": [
        {"data": {"name": "gridc"}, "transform": [{"calculate": "datum.d + 70", "as": "r"}, {"calculate": "0", "as": "z"}], "mark": {"type": "point", "shape": "circle", "filled": false, "color": "#d6d6d6", "strokeWidth": 1, "opacity": 1}, "encoding": {"x": {"field": "z", "type": "quantitative", "scale": {"domain": [-90.8, 82.2], "nice": false, "zero": false}, "axis": null}, "y": {"field": "z", "type": "quantitative", "scale": {"domain": [-83.8, 89.2], "nice": false, "zero": false}, "axis": null}, "size": {"field": "r", "type": "quantitative", "scale": {"type": "pow", "exponent": 2, "domain": [0, 70], "range": [0, 67081], "nice": false}, "legend": null}}},
        {"data": {"name": "spokes"}, "transform": [{"calculate": "0", "as": "z"}, {"calculate": "70*sin(datum.a*PI/180)", "as": "xe"}, {"calculate": "70*cos(datum.a*PI/180)", "as": "ye"}], "mark": {"type": "rule", "color": "#d6d6d6", "strokeWidth": 1}, "encoding": {"x": {"field": "z", "type": "quantitative", "axis": null}, "y": {"field": "z", "type": "quantitative", "axis": null}, "x2": {"field": "xe"}, "y2": {"field": "ye"}}},
        {"data": {"name": "ring"}, "transform": [{"calculate": "datum.d + 70", "as": "r"}, {"calculate": "0", "as": "z"}], "mark": {"type": "point", "shape": "circle", "filled": false, "color": "#000000", "strokeWidth": 3, "opacity": 1}, "encoding": {"x": {"field": "z", "type": "quantitative", "axis": null}, "y": {"field": "z", "type": "quantitative", "axis": null}, "size": {"field": "r", "type": "quantitative", "legend": null}}},
        {"data": {"name": "ticks"}, "transform": [{"calculate": "datum.a % 30 == 0 ? 71.5 : 70", "as": "r1"}, {"calculate": "datum.a % 30 == 0 ? 66.5 : 67.8", "as": "r2"}, {"calculate": "datum.r1*sin(datum.a*PI/180)", "as": "x1"}, {"calculate": "datum.r1*cos(datum.a*PI/180)", "as": "y1"}, {"calculate": "datum.r2*sin(datum.a*PI/180)", "as": "x2"}, {"calculate": "datum.r2*cos(datum.a*PI/180)", "as": "y2"}], "mark": {"type": "rule", "color": "#000000", "strokeWidth": 1.3}, "encoding": {"x": {"field": "x1", "type": "quantitative", "axis": null}, "y": {"field": "y1", "type": "quantitative", "axis": null}, "x2": {"field": "x2"}, "y2": {"field": "y2"}}},
        {"data": {"name": "alab"}, "transform": [{"filter": "datum.a == 0 || datum.a == 180"}, {"calculate": "72.5*sin(datum.a*PI/180)", "as": "lx"}, {"calculate": "72.5*cos(datum.a*PI/180)", "as": "ly"}], "mark": {"type": "text", "font": "Liberation Sans", "fontWeight": "bold", "fontSize": 16, "color": "#000000", "align": "center", "baseline": "middle"}, "encoding": {"x": {"field": "lx", "type": "quantitative", "axis": null}, "y": {"field": "ly", "type": "quantitative", "axis": null}, "text": {"field": "t", "type": "nominal"}}},
        {"data": {"name": "alab"}, "transform": [{"filter": "datum.a > 0 && datum.a < 180"}, {"calculate": "71.5*sin(datum.a*PI/180)", "as": "lx"}, {"calculate": "71.5*cos(datum.a*PI/180)", "as": "ly"}], "mark": {"type": "text", "font": "Liberation Sans", "fontWeight": "bold", "fontSize": 16, "color": "#000000", "align": "left", "baseline": "middle"}, "encoding": {"x": {"field": "lx", "type": "quantitative", "axis": null}, "y": {"field": "ly", "type": "quantitative", "axis": null}, "text": {"field": "t", "type": "nominal"}}},
        {"data": {"name": "alab"}, "transform": [{"filter": "datum.a < 0"}, {"calculate": "71.5*sin(datum.a*PI/180)", "as": "lx"}, {"calculate": "71.5*cos(datum.a*PI/180)", "as": "ly"}], "mark": {"type": "text", "font": "Liberation Sans", "fontWeight": "bold", "fontSize": 16, "color": "#000000", "align": "right", "baseline": "middle"}, "encoding": {"x": {"field": "lx", "type": "quantitative", "axis": null}, "y": {"field": "ly", "type": "quantitative", "axis": null}, "text": {"field": "t", "type": "nominal"}}},
        {"data": {"name": "rlab"}, "transform": [{"calculate": "datum.d + 70", "as": "ry"}, {"calculate": "0", "as": "z"}], "mark": {"type": "text", "font": "Liberation Sans", "fontWeight": "bold", "fontSize": 16, "color": "#000000", "align": "left", "baseline": "middle", "dx": 3, "dy": -4}, "encoding": {"x": {"field": "z", "type": "quantitative", "axis": null}, "y": {"field": "ry", "type": "quantitative", "axis": null}, "text": {"field": "t", "type": "nominal"}}},
        {"data": {"name": "curves"}, "transform": [{"filter": "datum.p == 'f' && datum.s == 'm'"}, {"calculate": "datum.d + 70", "as": "r"}, {"calculate": "datum.r*sin(datum.a*PI/180)", "as": "cx"}, {"calculate": "datum.r*cos(datum.a*PI/180)", "as": "cy"}], "mark": {"type": "line", "color": "#0000ff", "strokeWidth": 3, "strokeDash": [12, 7]}, "encoding": {"x": {"field": "cx", "type": "quantitative", "axis": null}, "y": {"field": "cy", "type": "quantitative", "axis": null}, "order": {"value": null}}},
        {"data": {"name": "curves"}, "transform": [{"filter": "datum.p == 'f' && datum.s == 's'"}, {"calculate": "datum.d + 70", "as": "r"}, {"calculate": "datum.r*sin(datum.a*PI/180)", "as": "cx"}, {"calculate": "datum.r*cos(datum.a*PI/180)", "as": "cy"}], "mark": {"type": "line", "color": "#ff0000", "strokeWidth": 3, "interpolate": "catmull-rom"}, "encoding": {"x": {"field": "cx", "type": "quantitative", "axis": null}, "y": {"field": "cy", "type": "quantitative", "axis": null}, "order": {"value": null}}}
      ]
    },
    {
      "width": 320, "height": 40,
      "data": {"name": "legend"},
      "transform": [{"filter": "datum.s == 'Measurement'"}, {"calculate": "0", "as": "z"}],
      "layer": [
        {"mark": {"type": "text", "font": "Liberation Serif", "fontSize": 21, "fontWeight": "normal", "color": "#000000", "align": "center", "baseline": "middle"}, "encoding": {"x": {"field": "z", "type": "quantitative", "scale": {"domain": [-112, 208], "nice": false, "zero": false}, "axis": null}, "y": {"field": "z", "type": "quantitative", "scale": {"domain": [-7, 33], "nice": false, "zero": false}, "axis": null}, "text": {"field": "s", "type": "nominal"}}},
        {"mark": {"type": "rule", "color": "#0000ff", "strokeWidth": 4, "strokeDash": [18, 13], "xOffset": 105, "x2Offset": 208}, "encoding": {"x": {"field": "z", "type": "quantitative", "axis": null}, "x2": {"field": "z"}, "y": {"field": "z", "type": "quantitative", "axis": null}}}
      ]
    },
    {
      "width": 320, "height": 40,
      "data": {"name": "legend"},
      "transform": [{"filter": "datum.s == 'Simulation'"}, {"calculate": "0", "as": "z"}],
      "layer": [
        {"mark": {"type": "text", "font": "Liberation Serif", "fontSize": 21, "fontWeight": "normal", "color": "#000000", "align": "center", "baseline": "middle"}, "encoding": {"x": {"field": "z", "type": "quantitative", "scale": {"domain": [-118, 202], "nice": false, "zero": false}, "axis": null}, "y": {"field": "z", "type": "quantitative", "scale": {"domain": [-7, 33], "nice": false, "zero": false}, "axis": null}, "text": {"field": "s", "type": "nominal"}}},
        {"mark": {"type": "rule", "color": "#ff0000", "strokeWidth": 4, "xOffset": 68, "x2Offset": 172}, "encoding": {"x": {"field": "z", "type": "quantitative", "axis": null}, "x2": {"field": "z"}, "y": {"field": "z", "type": "quantitative", "axis": null}}}
      ]
    }
  ]
}
